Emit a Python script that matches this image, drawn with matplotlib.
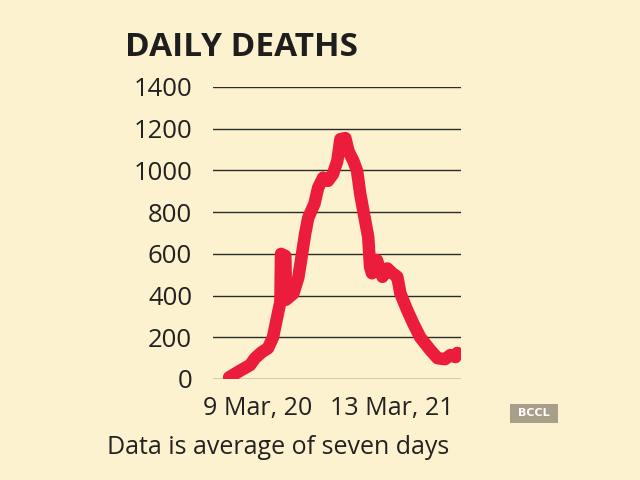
import matplotlib
matplotlib.use("Agg")
import matplotlib.pyplot as plt
from matplotlib.patches import FancyBboxPatch

# days since 9 Mar 2020 and 7-day average daily deaths
days = [0, 18, 34, 42, 53, 63, 71, 79, 83, 84, 91, 92, 104, 112, 118, 123,
        128, 138, 144, 152, 160, 168, 175, 180, 188, 193, 201, 207, 212, 220,
        225, 228, 231, 239, 248, 256, 264, 272, 277, 288, 298, 309, 325, 337,
        349, 358, 366, 369]
deaths = [8, 40, 67, 100, 129, 148, 200, 315, 370, 600, 590, 380, 410, 487,
          600, 697, 773, 840, 917, 965, 950, 983, 1045, 1150, 1155, 1093,
          1045, 997, 888, 760, 680, 537, 507, 570, 490, 530, 507, 490, 410,
          330, 265, 200, 140, 100, 95, 115, 105, 125]
yticks = [0, 200, 400, 600, 800, 1000, 1200, 1400]
date_labels = ["9 Mar, 20", "13 Mar, 21"]

bg = "#fdf2cf"
red = "#ec1c3c"
plt.rcParams["font.family"] = ["Open Sans", "DejaVu Sans"]

fig = plt.figure(figsize=(6.4, 4.8), dpi=100, facecolor=bg)
ax = fig.add_axes([213 / 640, 1 - 379 / 480, 248 / 640, 292 / 480])
ax.set_facecolor(bg)

for v in yticks:
    ax.axhline(v, color="#2b2b2b", lw=1.0, zorder=1)
ax.plot(days, deaths, color=red, lw=9, solid_capstyle="round",
        solid_joinstyle="round", zorder=3)

ax.set_xlim(-26, 375)
ax.set_ylim(0, 1400)
ax.set_yticks(yticks)
ax.set_yticklabels([str(v) for v in yticks], fontsize=18.5, color="#222222")
ax.tick_params(axis="y", length=0, pad=15)
ax.set_xticks([])
for s in ax.spines.values():
    s.set_visible(False)

fig.text(125 / 640, 1 - 47 / 480, "DAILY DEATHS", fontsize=24,
         fontweight="bold", color="#1e1e1e", va="center", ha="left")
fig.text(258 / 640, 1 - 409 / 480, date_labels[0], fontsize=18,
         color="#222222", ha="center", va="center")
fig.text(392 / 640, 1 - 409 / 480, date_labels[1], fontsize=18,
         color="#222222", ha="center", va="center")
fig.text(107 / 640, 1 - 447 / 480, "Data is average of seven days",
         fontsize=18, color="#222222", ha="left", va="center")

box = FancyBboxPatch((510 / 640, 1 - 423 / 480), 48 / 640, 19 / 480,
                     boxstyle="square,pad=0", transform=fig.transFigure,
                     facecolor="#a89f8a", edgecolor="none")
fig.patches.append(box)
fig.text(534 / 640, 1 - 413.5 / 480, "BCCL", fontsize=8, fontweight="bold",
         color="white", ha="center", va="center", family="DejaVu Sans")

fig.savefig("out.png", dpi=100, facecolor=bg)
